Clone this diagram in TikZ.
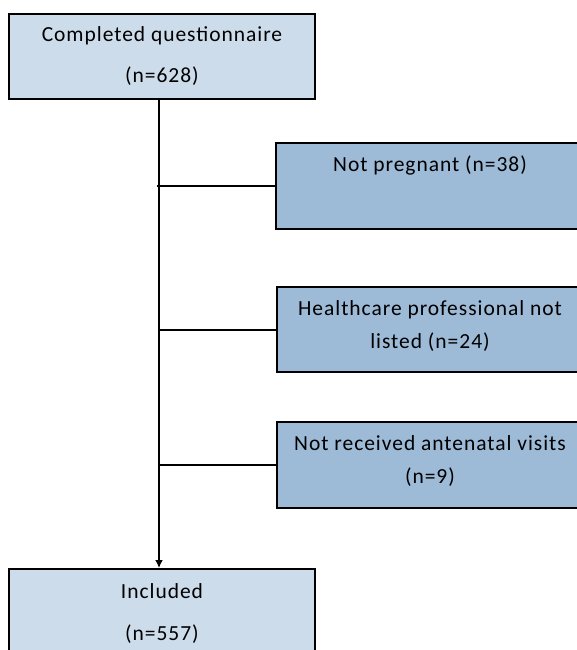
\documentclass[tikz,border=0pt]{standalone}
\usepackage{fontspec}
\setmainfont[LetterSpace=4.5]{Carlito}
\usetikzlibrary{arrows.meta}
\definecolor{lightbox}{HTML}{CDDCEB}
\definecolor{darkbox}{HTML}{9DBAD7}
\begin{document}
\begin{tikzpicture}[x=1pt,y=1pt,
  boxstyle/.style={draw=black,line width=2pt,rectangle,inner sep=0pt},
  txt/.style={anchor=base,inner sep=0pt,font=\fontsize{21.5}{25}\selectfont},
  conn/.style={line width=2pt}]
\useasboundingbox (0,0) rectangle (577,-650);
\path[clip] (0,0) rectangle (577,-650);
% boxes
\node[boxstyle,fill=lightbox,minimum width=306pt,minimum height=85pt] (top) at (162,-56.5) {};
\node[boxstyle,fill=darkbox,minimum width=306pt,minimum height=86pt] (b1) at (429,-186) {};
\node[boxstyle,fill=darkbox,minimum width=306pt,minimum height=85pt] (b2) at (430,-329.5) {};
\node[boxstyle,fill=darkbox,minimum width=306pt,minimum height=86pt] (b3) at (430,-465) {};
\node[boxstyle,fill=lightbox,minimum width=306pt,minimum height=90pt] (bot) at (162,-614) {};
% texts
\node[txt] (t1) at (162,-42) {Completed questionnaire};
\node[txt] (t2) at (162,-83) {(n=628)};
\node[txt] (t3) at (430,-171) {Not pregnant (n=38)};
\node[txt] (t4) at (430,-315) {Healthcare professional not};
\node[txt] (t5) at (430,-348) {listed (n=24)};
\node[txt] (t6) at (430,-450) {Not received antenatal visits};
\node[txt] (t7) at (430,-483) {(n=9)};
\node[txt] (t8) at (162,-598) {Included};
\node[txt] (t9) at (162,-640) {(n=557)};
% connectors
\draw[conn,-{Latex[length=8pt,width=8pt]}] (top.south -| 159,0) -- (bot.north -| 159,0);
\coordinate (j1) at (157,-186);
\coordinate (j2) at (159,-329.5);
\coordinate (j3) at (159,-465);
\draw[conn] (j1) -- (b1.west);
\draw[conn] (j2) -- (b2.west);
\draw[conn] (j3) -- (b3.west);
\end{tikzpicture}
\end{document}
